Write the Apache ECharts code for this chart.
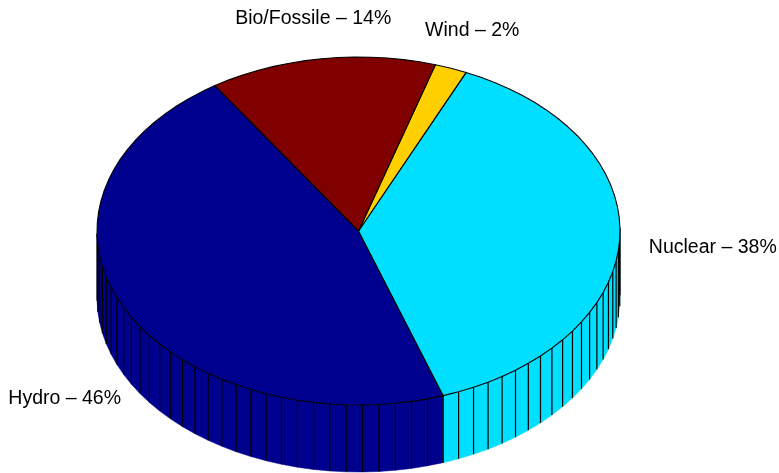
<!DOCTYPE html>
<html><head><meta charset="utf-8">
<script src="https://cdn.jsdelivr.net/npm/echarts@6/dist/echarts.min.js"></script>
<style>html,body{margin:0;padding:0;background:#fff}#c{width:779px;height:473px}</style>
</head><body><div id="c"></div>
<script>
// ---- data ----
const categories = ['Hydro', 'Nuclear', 'Wind', 'Bio/Fossile'];
const values = [46, 38, 2, 14];
const labelTexts = ['Hydro \u2013 46%', 'Nuclear \u2013 38%', 'Wind \u2013 2%', 'Bio/Fossile \u2013 14%'];

// ---- style / layout ----
const colors = ['#00008F', '#00DFFF', '#FFCF00', '#800000'];
const START_ANGLE = 123.3;   // degrees, slices run counter-clockwise
const SQUASH = 0.6654;       // vertical squash of the top ellipse
const DEPTH = 0.2562;        // wall height (in radius units)
const LABEL_R = 1.23;
const FACETS_FULL = 100;     // facets for a full circle (as MATLAB pie3)
const labelNudge = { 'Hydro': [-5, 73], 'Nuclear': [33, 7] };

const total = values.reduce((a, b) => a + b, 0);
const sliceData = [];
let acc = START_ANGLE;
values.forEach((v, i) => {
  const span = v / total * 360;
  sliceData.push([acc, acc + span, i, v]);
  acc += span;
});

const rad = d => d * Math.PI / 180;
function proj(api, ang, r, z) {
  return api.coord([r * Math.cos(rad(ang)), SQUASH * r * Math.sin(rad(ang)) + z]);
}
function facetAngles(a0, a1, v) {
  const n = Math.max(1, Math.ceil(FACETS_FULL * v / total));
  const arr = [];
  for (let k = 0; k <= n; k++) arr.push(a0 + (a1 - a0) * k / n);
  return arr;
}

function renderWall(params, api) {
  const a0 = api.value(0), a1 = api.value(1), i = api.value(2), v = api.value(3);
  const angs = facetAngles(a0, a1, v);
  const children = [];
  // collect runs of front-facing facets
  let run = [];
  const runs = [];
  for (let k = 0; k < angs.length - 1; k++) {
    const mid = (angs[k] + angs[k + 1]) / 2;
    if (Math.sin(rad(mid)) < 0) {
      if (run.length === 0) run.push(angs[k]);
      run.push(angs[k + 1]);
    } else if (run.length) { runs.push(run); run = []; }
  }
  if (run.length) runs.push(run);
  runs.forEach(r => {
    const top = r.map(a => proj(api, a, 1, 0));
    const bot = r.map(a => proj(api, a, 1, -DEPTH)).reverse();
    children.push({ type: 'polygon', shape: { points: top.concat(bot) },
      style: { fill: colors[i], stroke: colors[i], lineWidth: 0.5 } });
    r.forEach(a => {
      const p = proj(api, a, 1, 0), q = proj(api, a, 1, -DEPTH);
      children.push({ type: 'line', shape: { x1: p[0], y1: p[1], x2: q[0], y2: q[1] },
        style: { stroke: '#000', lineWidth: 1.2 } });
    });
  });
  return { type: 'group', children };
}

function renderTop(params, api) {
  const a0 = api.value(0), a1 = api.value(1), i = api.value(2), v = api.value(3);
  const angs = facetAngles(a0, a1, v);
  const pts = [api.coord([0, 0])].concat(angs.map(a => proj(api, a, 1, 0)));
  const mid = (a0 + a1) / 2;
  const lp = proj(api, mid, LABEL_R, 0);
  const nud = labelNudge[categories[i]] || [0, 0];
  return { type: 'group', children: [
    { type: 'polygon', shape: { points: pts },
      style: { fill: colors[i], stroke: '#000', lineWidth: 1.1, lineJoin: 'round' } },
    { type: 'text', x: lp[0] + nud[0], y: lp[1] + nud[1],
      style: { text: labelTexts[i], fill: '#000', fontSize: 19.5,
        fontFamily: '"Liberation Sans", Arial, sans-serif',
        align: 'center', verticalAlign: 'middle' } }
  ] };
}

const chart = echarts.init(document.getElementById('c'), null, { renderer: 'canvas' });
chart.setOption({
  animation: false,
  backgroundColor: '#fff',
  grid: { left: 0, right: 0, top: 0, bottom: 0 },
  xAxis: { type: 'value', min: -1.371, max: 1.608, show: false },
  yAxis: { type: 'value', min: -0.9254, max: 0.8834, show: false },
  series: [
    { type: 'custom', name: 'walls', data: sliceData, renderItem: renderWall, clip: false,
      encode: { x: 0, y: 1 } },
    { type: 'custom', name: 'tops', data: sliceData, renderItem: renderTop, clip: false,
      encode: { x: 0, y: 1 } }
  ]
});
</script>
</body></html>
